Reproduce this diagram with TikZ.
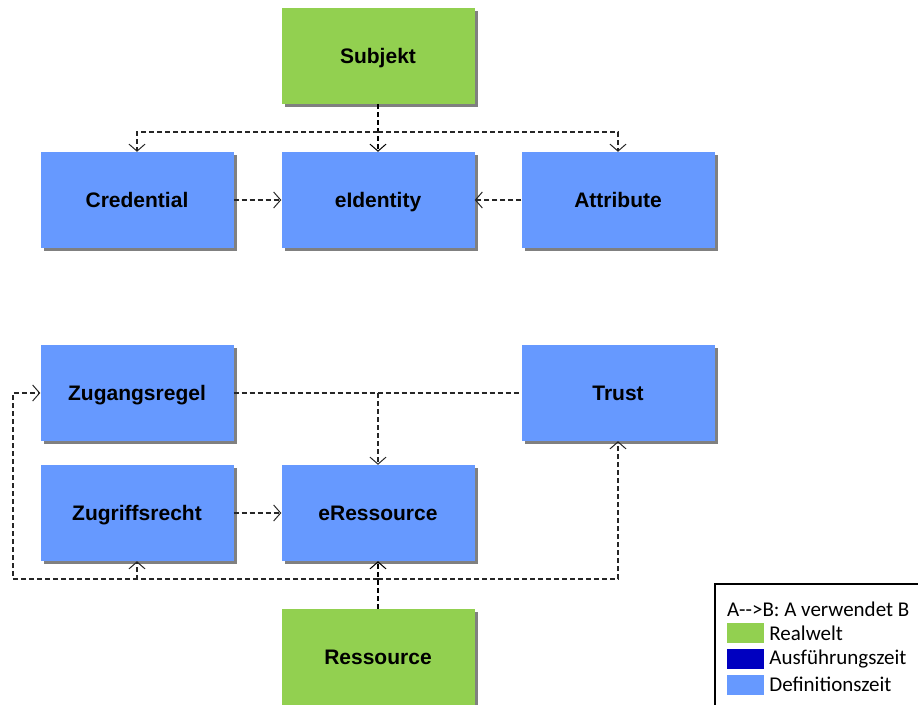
\documentclass[tikz,border=0pt]{standalone}
\usepackage{fontspec}
\setmainfont{Liberation Sans}
\newfontfamily\legendfont{Carlito}
\usepackage{tikz}
\usetikzlibrary{positioning,arrows.meta,shadows}

\definecolor{realgreen}{HTML}{92D050}
\definecolor{defblue}{HTML}{6699FF}
\definecolor{runblue}{HTML}{0000C0}

\begin{document}
\begin{tikzpicture}[
  x=1pt,y=-1pt,
  box/.style={rectangle,fill=#1,inner sep=0pt,minimum width=193pt,minimum height=96pt,
    text height=17pt,text depth=2pt,
    font=\fontsize{21}{25}\selectfont\bfseries,
    drop shadow={shadow xshift=3pt,shadow yshift=-3pt,fill=black!50,opacity=1}},
  link/.style={black!85,line width=1.1pt,dash pattern=on 5pt off 3pt},
  conn/.style={link,-{Straight Barb[length=7pt,width=16pt,line width=1pt]}},
  swatch/.style={rectangle,fill=#1,inner sep=0pt,minimum width=37pt,minimum height=20pt},
  legtext/.style={font=\legendfont\fontsize{21}{25}\selectfont,inner sep=0pt,anchor=west},
]
\clip (0,0) rectangle (918,704);

% Top: Subjekt
\node[box=realgreen] (subj) at (378,56) {Subjekt};

% Identity row
\node[box=defblue] (cred) at (137,200) {Credential};
\node[box=defblue] (eid) at (378,200) {eIdentity};
\node[box=defblue] (attr) at (618,200) {Attribute};

% Resource block
\node[box=defblue] (zreg) at (137,393) {Zugangsregel};
\node[box=defblue] (trust) at (618,393) {Trust};
\node[box=defblue] (zrecht) at (137,513) {Zugriffsrecht};
\node[box=defblue] (eres) at (378,513) {eRessource};
\node[box=realgreen] (res) at (378,657) {Ressource};

% Junctions
\coordinate (jtop) at (378,132);
\coordinate (jmid) at (378,393);
\coordinate (jbot) at (378,579);
\coordinate (jleft) at (13,579);

% Subjekt uses ...
\draw[conn,black] (subj) -- (eid);
\draw[conn] (jtop) -| (cred);
\draw[conn] (jtop) -| (attr);
\draw[conn] (cred) -- (eid);
\draw[conn] (attr) -- (eid);

% Zugangsregel / Trust uses eRessource
\draw[link] (zreg) -- (trust);
\draw[conn] (jmid) -- (eres);
\draw[conn] (zrecht) -- (eres);

% Ressource uses ...
\draw[conn,black] (res) -- (eres);
\draw[conn] (jbot) -| (trust);
\draw[conn] (jbot) -| (zrecht);
\draw[conn] (jbot) -- (jleft) |- (zreg);

% Legend
\draw[line width=1.2pt] (715,584) rectangle (940,720);
\node[legtext] (leghead) at (727,609) {A-{}->B: A verwendet B};
\node[swatch=realgreen] (lgreal) at (745.5,633) {};
\node[swatch=runblue] (lgrun) at (745.5,659) {};
\node[swatch=defblue] (lgdef) at (745.5,684.5) {};
\node[legtext,right=5pt of lgreal] (txreal) {Realwelt};
\node[legtext,right=5pt of lgrun] (txrun) {Ausführungszeit};
\node[legtext,right=5pt of lgdef] (txdef) {Definitionszeit};
\end{tikzpicture}
\end{document}
